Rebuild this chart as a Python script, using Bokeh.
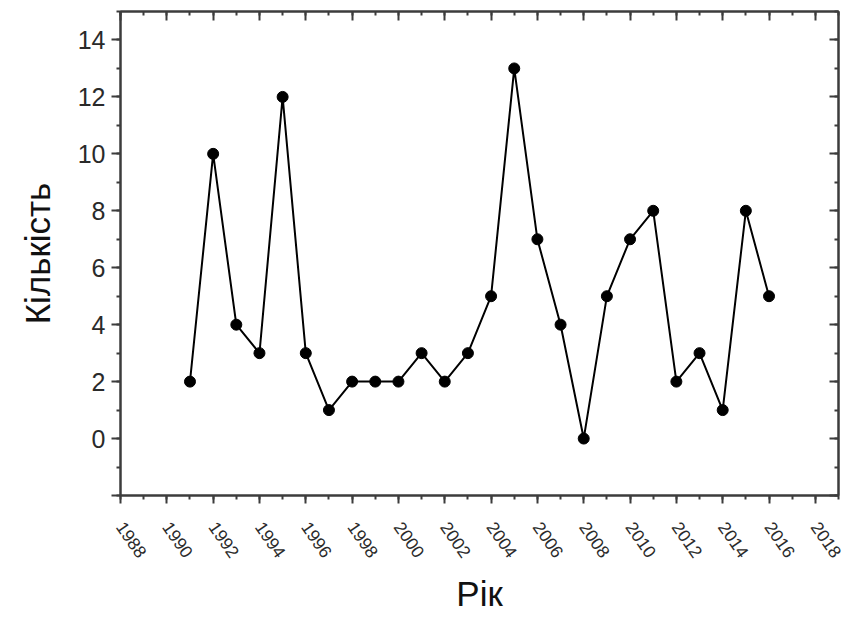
from bokeh.plotting import figure
from bokeh.models import LinearAxis, SingleIntervalTicker, Range1d, CustomJSTickFormatter, ColumnDataSource
from bokeh.embed import file_html
from bokeh.resources import INLINE

years = [1991, 1992, 1993, 1994, 1995, 1996, 1997, 1998, 1999, 2000, 2001, 2002, 2003,
         2004, 2005, 2006, 2007, 2008, 2009, 2010, 2011, 2012, 2013, 2014, 2015, 2016]
counts = [2, 10, 4, 3, 12, 3, 1, 2, 2, 2, 3, 2, 3,
          5, 13, 7, 4, 0, 5, 7, 8, 2, 3, 1, 8, 5]
x_label = "Рік"
y_label = "Кількість"

FONT = "Liberation Sans"
AX = "#3c3c3c"

src = ColumnDataSource(dict(x=years, y=counts))

p = figure(width=846, height=615, output_backend="svg", toolbar_location=None,
           x_range=Range1d(1988, 2019), y_range=Range1d(-2, 15),
           min_border_left=120, min_border_right=8, min_border_top=11, min_border_bottom=112,
           x_axis_location=None, y_axis_location=None)
p.xgrid.visible = False
p.ygrid.visible = False
p.outline_line_color = AX
p.outline_line_width = 2
p.background_fill_color = "white"
p.border_fill_color = "white"

xb = LinearAxis(ticker=SingleIntervalTicker(interval=2, num_minor_ticks=2))
yl = LinearAxis(ticker=SingleIntervalTicker(interval=2, num_minor_ticks=2),
                formatter=CustomJSTickFormatter(code="return tick < 0 ? '' : tick.toFixed(0)"))
xt = LinearAxis(ticker=SingleIntervalTicker(interval=2, num_minor_ticks=2),
                formatter=CustomJSTickFormatter(code="return ''"))
yr = LinearAxis(ticker=SingleIntervalTicker(interval=2, num_minor_ticks=2),
                formatter=CustomJSTickFormatter(code="return ''"))

for ax in (xb, yl, xt, yr):
    ax.axis_line_color = AX
    ax.axis_line_width = 2
    ax.major_tick_line_color = AX
    ax.major_tick_line_width = 2
    ax.minor_tick_line_color = AX
    ax.minor_tick_line_width = 2
    ax.major_label_text_font = FONT
    ax.major_label_text_color = "#2a2a2a"
    ax.axis_label_text_font = FONT
    ax.axis_label_text_font_style = "normal"
    ax.axis_label_text_color = "#111111"

xb.major_tick_in = 0
xb.major_tick_out = 8
xb.minor_tick_in = 0
xb.minor_tick_out = 4
xb.major_label_text_font_size = "17.5px"
xb.major_label_orientation = -0.96
xb.major_label_standoff = 20
xb.axis_label = x_label
xb.axis_label_text_font_size = "35px"
xb.axis_label_standoff = 8

yl.major_tick_in = 0
yl.major_tick_out = 9
yl.minor_tick_in = 0
yl.minor_tick_out = 4
yl.major_label_text_font_size = "25px"
yl.major_label_standoff = 6
yl.axis_label = y_label
yl.axis_label_text_font_size = "35px"
yl.axis_label_standoff = 18

for ax in (xt, yr):
    ax.major_tick_in = 9
    ax.major_tick_out = 0
    ax.minor_tick_in = 4
    ax.minor_tick_out = 0
    ax.major_label_text_font_size = "0px"
    ax.major_label_standoff = 0

p.add_layout(xb, "below")
p.add_layout(yl, "left")
p.add_layout(xt, "above")
p.add_layout(yr, "right")

p.line("x", "y", source=src, line_color="black", line_width=2)
p.scatter("x", "y", source=src, size=11, fill_color="black", line_color="black")

open("out.html", "w").write(file_html(p, INLINE))
